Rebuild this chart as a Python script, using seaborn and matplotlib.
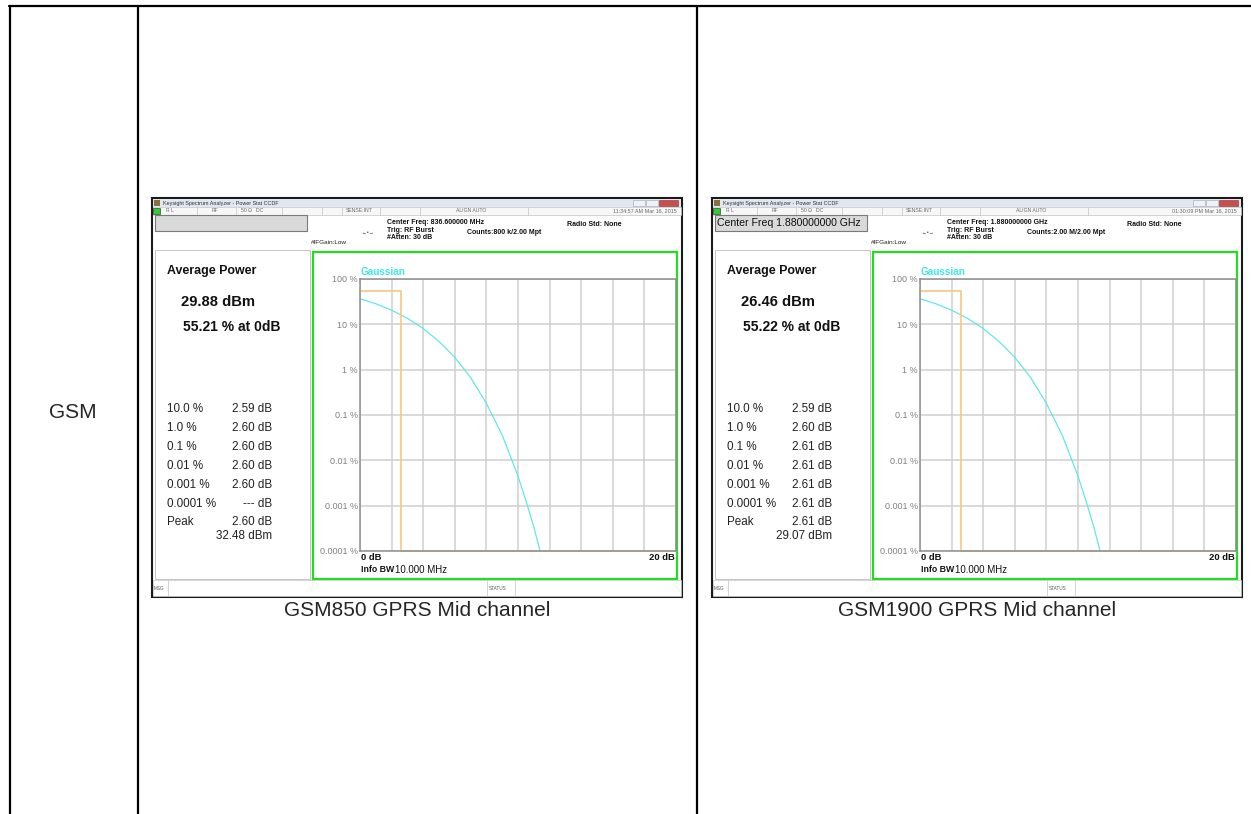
import matplotlib
matplotlib.use('Agg')
import matplotlib.pyplot as plt
from matplotlib.patches import Rectangle
from matplotlib.lines import Line2D
import seaborn as sns

W, H = 1251, 814

# Gaussian reference CCDF (dB above average, %)
gauss_db = [0, 1, 2, 3, 4, 5, 6, 7, 8, 9, 10, 10.5, 11, 11.4]
gauss_pct = [36.8, 28.4, 20.5, 13.6, 8.1, 4.2, 1.87, 0.67, 0.18, 0.036, 0.0045, 0.0013, 0.00034, 0.0001]

# measured CCDF traces (step at the peak-to-average value)
gsm850_db = [0, 2.60, 2.60, 20]
gsm850_pct = [55.21, 55.21, 0.0001, 0.0001]
gsm1900_db = [0, 2.61, 2.61, 20]
gsm1900_pct = [55.22, 55.22, 0.0001, 0.0001]

ytick_vals = [1e-4, 1e-3, 1e-2, 1e-1, 1, 10, 100]
ytick_labels = ['0.0001 %', '0.001 %', '0.01 %', '0.1 %', '1 %', '10 %', '100 %']

ccdf_levels = ['10.0 %', '1.0 %', '0.1 %', '0.01 %', '0.001 %', '0.0001 %']
gsm850_ccdf = ['2.59 dB', '2.60 dB', '2.60 dB', '2.60 dB', '2.60 dB', '--- dB']
gsm1900_ccdf = ['2.59 dB', '2.60 dB', '2.61 dB', '2.61 dB', '2.61 dB', '2.61 dB']

captions = ['GSM850 GPRS Mid channel', 'GSM1900 GPRS Mid channel']

panels = [
    dict(ox=0, db=gsm850_db, pct=gsm850_pct, ccdf=gsm850_ccdf,
         avg='29.88 dBm', at0='55.21 % at 0dB', peak='2.60 dB', peak_dbm='32.48 dBm',
         time='11:34:57 AM Mar 16, 2015', freq='Center Freq: 836.600000 MHz',
         counts='Counts:800 k/2.00 Mpt', box=''),
    dict(ox=560, db=gsm1900_db, pct=gsm1900_pct, ccdf=gsm1900_ccdf,
         avg='26.46 dBm', at0='55.22 % at 0dB', peak='2.61 dB', peak_dbm='29.07 dBm',
         time='01:30:09 PM Mar 16, 2015', freq='Center Freq: 1.880000000 GHz',
         counts='Counts:2.00 M/2.00 Mpt', box='Center Freq 1.880000000 GHz'),
]

sns.set_style('white')
plt.rcParams['font.family'] = ['Liberation Sans', 'DejaVu Sans']

fig = plt.figure(figsize=(W / 100, H / 100), dpi=100)


def fx(x):
    return x / W


def fy(y):
    return 1 - y / H


def rect(x0, y0, x1, y1, **kw):
    fig.add_artist(Rectangle((fx(x0), fy(y1)), (x1 - x0) / W, (y1 - y0) / H,
                             transform=fig.transFigure, **kw))


def line(x0, y0, x1, y1, **kw):
    fig.add_artist(Line2D([fx(x0), fx(x1)], [fy(y0), fy(y1)], transform=fig.transFigure, **kw))


def text(x, y, s, **kw):
    kw.setdefault('va', 'center')
    fig.text(fx(x), fy(y), s, **kw)


# table grid
line(9, 6, 1251, 6, color='black', lw=1.6)
for xv in [10, 138, 697]:
    line(xv, 6, xv, 814, color='black', lw=1.6)
text(73, 412, 'GSM', ha='center', fontsize=15)


def draw_window(p):
    ox = p['ox']
    rect(ox + 152, 198, ox + 682, 597, fc='white', ec='#1a1a1a', lw=1.5, zorder=1)
    # title bar
    rect(ox + 153, 199, ox + 681, 207, fc='#dfe7f1', ec='none', zorder=2)
    rect(ox + 154, 200, ox + 160, 206, fc='#8c6d3c', ec='none', zorder=3)
    text(ox + 163, 203, 'Keysight Spectrum Analyzer - Power Stat CCDF', fontsize=3.9, color='#333333')
    rect(ox + 633, 200, ox + 645, 206, fc='#eef2f7', ec='#9aa6b6', lw=0.4, zorder=3)
    rect(ox + 646, 200, ox + 658, 206, fc='#eef2f7', ec='#9aa6b6', lw=0.4, zorder=3)
    rect(ox + 659, 200, ox + 678, 206, fc='#c9504a', ec='#8a3030', lw=0.4, zorder=3)
    # status row
    rect(ox + 153, 207, ox + 681, 215, fc='#f7f7f7', ec='#c4c4c4', lw=0.5, zorder=2)
    rect(ox + 153, 208, ox + 160, 214, fc='#2ecc2e', ec='#222222', lw=0.4, zorder=3)
    for sx in [197, 236, 282, 322, 342, 380, 420, 528]:
        line(ox + sx, 207, ox + sx, 215, color='#c4c4c4', lw=0.5)
    for sx, s in [(166, 'R L'), (212, 'RF'), (241, '50 Ω   DC'), (346, 'SENSE:INT'), (456, 'ALIGN AUTO')]:
        text(ox + sx, 211, s, fontsize=3.7, color='#6a6a6a')
    text(ox + 677, 211, p['time'], fontsize=3.9, color='#6a6a6a', ha='right')
    # header
    rect(ox + 155, 215, ox + 307, 231, fc='#d9d9d9', ec='#7a7a7a', lw=0.8, zorder=2)
    if p['box']:
        text(ox + 157, 223, p['box'], fontsize=7.6, color='#111111')
    text(ox + 362, 232, '←•→', fontsize=3.5, color='#333333')
    hdr = dict(fontsize=5.0, color='#111111', fontweight='bold')
    text(ox + 387, 223, p['freq'], **hdr)
    text(ox + 387, 230, 'Trig: RF Burst', **hdr)
    text(ox + 387, 238, '#Atten: 30 dB', **hdr)
    text(ox + 467, 233, p['counts'], **hdr)
    text(ox + 567, 224, 'Radio Std: None', **hdr)
    text(ox + 311, 243, '#IFGain:Low', fontsize=4.6, color='#222222')
    # left readout panel
    rect(ox + 155, 250, ox + 310, 579, fc='white', ec='#bdbdbd', lw=0.6, zorder=2)
    text(ox + 167, 271, 'Average Power', fontsize=8.9, fontweight='bold', color='#111111')
    text(ox + 181, 302, p['avg'], fontsize=10.6, fontweight='bold', color='#111111')
    text(ox + 183, 327, p['at0'], fontsize=10.0, fontweight='bold', color='#111111')
    for i, (lab, val) in enumerate(zip(ccdf_levels, p['ccdf'])):
        yv = 409 + 19 * i
        text(ox + 167, yv, lab, fontsize=8.4, color='#222222')
        text(ox + 272, yv, val, fontsize=8.4, color='#222222', ha='right')
    text(ox + 167, 522, 'Peak', fontsize=8.4, color='#222222')
    text(ox + 272, 522, p['peak'], fontsize=8.4, color='#222222', ha='right')
    text(ox + 272, 536, p['peak_dbm'], fontsize=8.4, color='#222222', ha='right')
    # plot frame
    rect(ox + 313, 252, ox + 677, 579, fc='white', ec='#22dd22', lw=1.6, zorder=2)
    # bottom message bar
    rect(ox + 153, 580, ox + 681, 596, fc='white', ec='#c4c4c4', lw=0.5, zorder=2)
    for sx in [168, 487, 515]:
        line(ox + sx, 580, ox + sx, 596, color='#c4c4c4', lw=0.5)
    text(ox + 154, 588, 'MSG', fontsize=3.3, color='#555555')
    text(ox + 489, 588, 'STATUS', fontsize=3.3, color='#555555')

    # CCDF plot
    ax = fig.add_axes([fx(ox + 360), fy(551), (676 - 360) / W, (551 - 279) / H])
    ax.set_facecolor('none')
    ax.set_zorder(5)
    sns.lineplot(x=gauss_db, y=gauss_pct, ax=ax, color='#5ee8ea', lw=0.9,
                 sort=False, estimator=None)
    sns.lineplot(x=p['db'], y=p['pct'], ax=ax, color='#f9c98e', lw=1.3,
                 sort=False, estimator=None)
    ax.set_yscale('log')
    ax.set_xlim(0, 20)
    ax.set_ylim(1e-4, 100)
    ax.set_xticks(range(0, 21, 2))
    ax.set_xticklabels([])
    ax.set_yticks(ytick_vals)
    ax.set_yticklabels(ytick_labels)
    ax.yaxis.set_minor_locator(matplotlib.ticker.NullLocator())
    ax.tick_params(axis='y', length=0, pad=1.5, labelsize=6.5, labelcolor='#808080')
    ax.tick_params(axis='x', length=0)
    ax.grid(True, color='#cfcfcf', lw=1.1)
    for sp in ax.spines.values():
        sp.set_color('#8e8e8e')
        sp.set_linewidth(1.1)
    ax.set_xlabel('')
    ax.set_ylabel('')
    for ln in ax.lines:
        ln.set_clip_on(False)
    text(ox + 361, 272, 'Gaussian', fontsize=7.2, fontweight='bold', color='#3fe6ea')
    text(ox + 361, 558, '0 dB', fontsize=6.8, fontweight='bold', color='#111111')
    text(ox + 675, 558, '20 dB', fontsize=6.8, fontweight='bold', color='#111111', ha='right')
    text(ox + 361, 570, 'Info BW', fontsize=6.3, fontweight='bold', color='#111111')
    text(ox + 395, 570, '10.000 MHz', fontsize=7.0, color='#111111')


for p, cap in zip(panels, captions):
    draw_window(p)
    text(p['ox'] + 417, 611, cap, ha='center', fontsize=15)

fig.savefig('out.png', dpi=100)
